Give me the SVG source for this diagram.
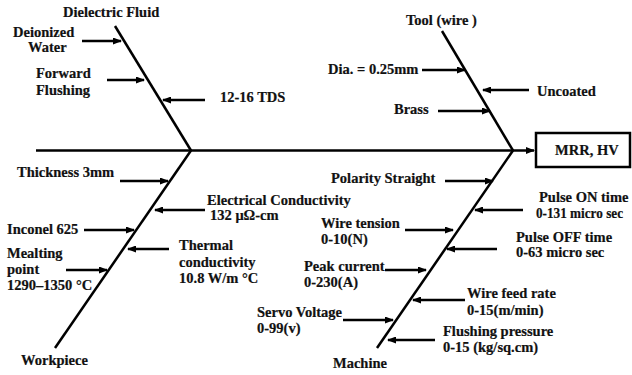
<svg xmlns="http://www.w3.org/2000/svg" width="632" height="375" viewBox="0 0 632 375">
<defs>
<marker id="ah" markerWidth="9" markerHeight="7" refX="8" refY="3.5" orient="auto" markerUnits="userSpaceOnUse">
<path d="M0,0 L9,3.5 L0,7 Z" fill="#000"/>
</marker>
</defs>
<style>
text{font-family:"Liberation Serif","Times New Roman",serif;font-weight:bold;font-size:14.5px;fill:#111;stroke:#111;stroke-width:0.2}
.bone{stroke:#000;stroke-width:2.5;fill:none}
.arr{stroke:#000;stroke-width:2.3;fill:none;marker-end:url(#ah)}
</style>
<rect width="632" height="375" fill="#fff"/>
<g id="connectors">
<line class="bone" x1="36" y1="150.5" x2="534" y2="150.5" marker-end="url(#ah)"/>
<line class="bone" x1="115" y1="26" x2="191" y2="150.5"/>
<line class="bone" x1="191" y1="150.5" x2="55" y2="348"/>
<line class="bone" x1="442" y1="31" x2="513" y2="150.5"/>
<line class="bone" x1="513" y1="150.5" x2="377" y2="348"/>
<line class="arr" x1="82" y1="41" x2="121" y2="41"/>
<line class="arr" x1="107" y1="80" x2="144" y2="80"/>
<line class="arr" x1="205" y1="100" x2="163" y2="100"/>
<line class="arr" x1="422" y1="70" x2="465" y2="70"/>
<line class="arr" x1="529" y1="90" x2="483" y2="90"/>
<line class="arr" x1="438" y1="111" x2="490" y2="111"/>
<line class="arr" x1="120" y1="181" x2="168" y2="181"/>
<line class="arr" x1="205" y1="210" x2="155" y2="210"/>
<line class="arr" x1="84" y1="230" x2="134" y2="230"/>
<line class="arr" x1="169" y1="249" x2="128" y2="249"/>
<line class="arr" x1="66" y1="270" x2="107" y2="270"/>
<line class="arr" x1="445" y1="181" x2="493" y2="181"/>
<line class="arr" x1="523" y1="210" x2="475" y2="210"/>
<line class="arr" x1="405" y1="230" x2="453" y2="230"/>
<line class="arr" x1="497" y1="249" x2="447" y2="249"/>
<line class="arr" x1="385" y1="270" x2="426" y2="270"/>
<line class="arr" x1="465" y1="300" x2="413" y2="300"/>
<line class="arr" x1="343" y1="320" x2="393" y2="320"/>
<line class="arr" x1="435" y1="340" x2="388" y2="340"/>
</g>
<g id="effect">
<rect x="536" y="133" width="94" height="34" fill="#fff" stroke="#000" stroke-width="2.5"/>
<text x="555" y="155">MRR, HV</text>
</g>
<g id="dielectric">
<text x="63" y="17">Dielectric Fluid</text>
<text x="13" y="37">Deionized</text>
<text x="28" y="52">Water</text>
<text x="36" y="78">Forward</text>
<text x="36" y="95">Flushing</text>
<text x="220" y="102">12-16 TDS</text>
</g>
<g id="tool">
<text x="406" y="25">Tool (wire )</text>
<text x="328" y="74">Dia. = 0.25mm</text>
<text x="537" y="96">Uncoated</text>
<text x="394" y="114">Brass</text>
</g>
<g id="workpiece">
<text x="17" y="177">Thickness 3mm</text>
<text x="207" y="205">Electrical Conductivity</text>
<text x="210" y="220">132 μΩ-cm</text>
<text x="7" y="234">Inconel 625</text>
<text x="179" y="250">Thermal</text>
<text x="179" y="267">conductivity</text>
<text x="179" y="283">10.8 W/m °C</text>
<text x="7" y="258">Mealting</text>
<text x="7" y="274">point</text>
<text x="7" y="290">1290–1350 °C</text>
<text x="21" y="365">Workpiece</text>
</g>
<g id="machine">
<text x="331" y="183">Polarity Straight</text>
<text x="539" y="202">Pulse ON time</text>
<text x="536" y="218" textLength="87" lengthAdjust="spacingAndGlyphs">0-131 micro sec</text>
<text x="321" y="228">Wire tension</text>
<text x="321" y="244">0-10(N)</text>
<text x="516" y="242">Pulse OFF time</text>
<text x="516" y="257">0-63 micro sec</text>
<text x="304" y="271">Peak current</text>
<text x="304" y="287">0-230(A)</text>
<text x="467" y="298">Wire feed rate</text>
<text x="467" y="315">0-15(m/min)</text>
<text x="257" y="317">Servo Voltage</text>
<text x="257" y="333">0-99(v)</text>
<text x="443" y="336">Flushing pressure</text>
<text x="443" y="352">0-15 (kg/sq.cm)</text>
<text x="333" y="368">Machine</text>
</g>
</svg>
